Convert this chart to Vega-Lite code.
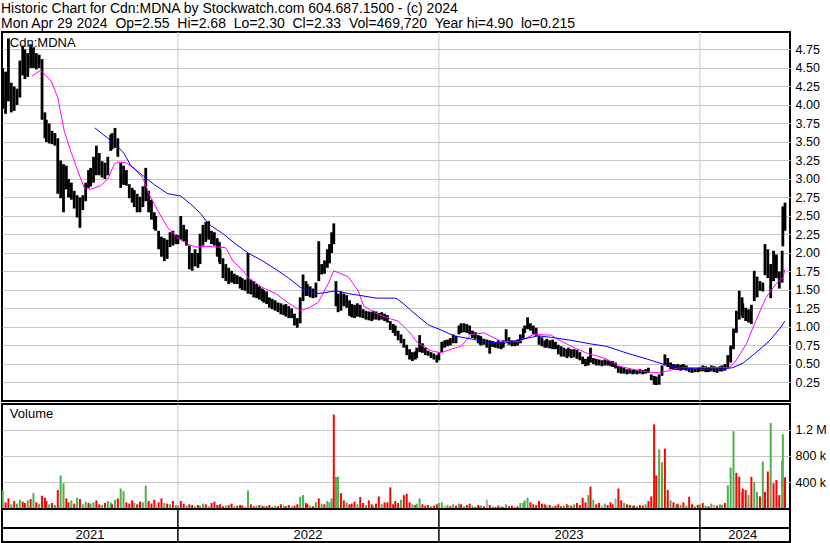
{
"$schema":"https://vega.github.io/schema/vega-lite/v6.json",
"padding":{"left":0,"top":2,"right":0,"bottom":0},
"background":"white",
"spacing":3,
"bounds":"flush",
"config":{
 "font":"Liberation Sans",
 "view":{"stroke":"black","strokeWidth":2},
 "axis":{"gridColor":"#c8c8c8","gridWidth":1,"labelFont":"Liberation Sans","labelFontSize":12.5,"labelColor":"black","domain":false,"ticks":false,"title":null,"labelOverlap":false},
 "title":{"font":"Liberation Sans","fontSize":14,"fontWeight":"normal","color":"black"}
},
"title":{"text":["Historic Chart for Cdn:MDNA by Stockwatch.com 604.687.1500 - (c) 2024","Mon Apr 29 2024\u00a0 Op=2.55\u00a0 Hi=2.68\u00a0 Lo=2.30\u00a0 Cl=2.33\u00a0 Vol=469,720\u00a0 Year hi=4.90\u00a0 lo=0.215"],"anchor":"start","frame":"bounds","lineHeight":14.5,"offset":0,"dx":1},
"datasets":{
"px":[
{"d":"2021-05-01","h":4.5,"l":3.95,"v":280,"k":"g"},{"d":"2021-05-05","h":4.45,"l":3.88,"v":90,"k":"r"},{"d":"2021-05-09","h":4.9,"l":4.05,"v":150,"k":"r"},{"d":"2021-05-13","h":4.3,"l":3.9,"v":60,"k":"g"},{"d":"2021-05-17","h":4.25,"l":3.92,"v":110,"k":"r"},{"d":"2021-05-21","h":4.22,"l":4.0,"v":70,"k":"g"},{"d":"2021-05-25","h":4.6,"l":4.1,"v":130,"k":"g"},{"d":"2021-05-29","h":4.8,"l":4.4,"v":100,"k":"r"},
{"d":"2021-06-01","h":4.75,"l":4.35,"v":80,"k":"r"},{"d":"2021-06-05","h":4.7,"l":4.38,"v":120,"k":"g"},{"d":"2021-06-09","h":4.82,"l":4.5,"v":140,"k":"r"},{"d":"2021-06-13","h":4.78,"l":4.5,"v":230,"k":"g"},{"d":"2021-06-17","h":4.7,"l":4.48,"v":90,"k":"r"},{"d":"2021-06-21","h":4.68,"l":4.5,"v":70,"k":"g"},{"d":"2021-06-25","h":4.62,"l":3.8,"v":190,"k":"r"},{"d":"2021-06-29","h":3.9,"l":3.55,"v":160,"k":"r"},
{"d":"2021-07-01","h":3.8,"l":3.5,"v":110,"k":"r"},{"d":"2021-07-05","h":3.75,"l":3.48,"v":60,"k":"g"},{"d":"2021-07-09","h":3.65,"l":3.47,"v":80,"k":"r"},{"d":"2021-07-13","h":3.62,"l":3.45,"v":50,"k":"g"},{"d":"2021-07-17","h":3.55,"l":2.8,"v":280,"k":"r"},{"d":"2021-07-21","h":3.25,"l":2.74,"v":500,"k":"g"},{"d":"2021-07-25","h":3.2,"l":2.55,"v":380,"k":"g"},{"d":"2021-07-29","h":3.18,"l":2.86,"v":150,"k":"r"},
{"d":"2021-08-01","h":3.0,"l":2.75,"v":90,"k":"r"},{"d":"2021-08-05","h":2.95,"l":2.72,"v":120,"k":"g"},{"d":"2021-08-09","h":2.84,"l":2.6,"v":70,"k":"r"},{"d":"2021-08-13","h":2.78,"l":2.48,"v":160,"k":"g"},{"d":"2021-08-17","h":2.75,"l":2.34,"v":140,"k":"r"},{"d":"2021-08-21","h":2.78,"l":2.58,"v":60,"k":"g"},{"d":"2021-08-25","h":2.95,"l":2.7,"v":100,"k":"g"},{"d":"2021-08-29","h":3.12,"l":2.88,"v":80,"k":"r"},
{"d":"2021-09-01","h":3.15,"l":2.9,"v":70,"k":"g"},{"d":"2021-09-05","h":3.3,"l":2.95,"v":90,"k":"g"},{"d":"2021-09-09","h":3.45,"l":3.05,"v":120,"k":"r"},{"d":"2021-09-13","h":3.35,"l":3.05,"v":60,"k":"r"},{"d":"2021-09-17","h":3.24,"l":3.02,"v":50,"k":"g"},{"d":"2021-09-21","h":3.22,"l":3.0,"v":80,"k":"r"},{"d":"2021-09-25","h":3.3,"l":3.05,"v":110,"k":"g"},{"d":"2021-09-29","h":3.6,"l":3.38,"v":90,"k":"g"},
{"d":"2021-10-01","h":3.62,"l":3.4,"v":60,"k":"r"},{"d":"2021-10-05","h":3.69,"l":3.42,"v":130,"k":"g"},{"d":"2021-10-09","h":3.55,"l":3.3,"v":150,"k":"r"},{"d":"2021-10-13","h":3.22,"l":2.88,"v":300,"k":"g"},{"d":"2021-10-17","h":3.18,"l":2.92,"v":260,"k":"g"},{"d":"2021-10-21","h":3.12,"l":2.91,"v":90,"k":"r"},{"d":"2021-10-25","h":2.93,"l":2.74,"v":70,"k":"r"},{"d":"2021-10-29","h":2.88,"l":2.68,"v":120,"k":"r"},
{"d":"2021-11-01","h":2.85,"l":2.62,"v":80,"k":"g"},{"d":"2021-11-05","h":2.8,"l":2.55,"v":60,"k":"r"},{"d":"2021-11-09","h":2.76,"l":2.55,"v":100,"k":"r"},{"d":"2021-11-13","h":2.9,"l":2.62,"v":90,"k":"g"},{"d":"2021-11-17","h":3.15,"l":2.7,"v":345,"k":"g"},{"d":"2021-11-21","h":2.84,"l":2.55,"v":110,"k":"r"},{"d":"2021-11-25","h":2.72,"l":2.45,"v":70,"k":"r"},{"d":"2021-11-29","h":2.55,"l":2.32,"v":130,"k":"r"},
{"d":"2021-12-01","h":2.5,"l":2.3,"v":60,"k":"n"},{"d":"2021-12-05","h":2.3,"l":2.05,"v":90,"k":"r"},{"d":"2021-12-09","h":2.22,"l":1.95,"v":150,"k":"r"},{"d":"2021-12-13","h":2.2,"l":1.89,"v":80,"k":"g"},{"d":"2021-12-17","h":2.18,"l":1.92,"v":70,"k":"r"},{"d":"2021-12-21","h":2.28,"l":2.08,"v":60,"k":"g"},{"d":"2021-12-25","h":2.3,"l":2.1,"v":110,"k":"r"},{"d":"2021-12-29","h":2.25,"l":2.12,"v":50,"k":"g"},
{"d":"2022-01-01","h":2.24,"l":2.12,"v":40,"k":"g"},{"d":"2022-01-05","h":2.5,"l":2.18,"v":110,"k":"r"},{"d":"2022-01-09","h":2.38,"l":2.16,"v":70,"k":"r"},{"d":"2022-01-13","h":2.32,"l":2.1,"v":40,"k":"g"},{"d":"2022-01-17","h":2.1,"l":1.78,"v":60,"k":"r"},{"d":"2022-01-21","h":2.0,"l":1.76,"v":50,"k":"r"},{"d":"2022-01-25","h":2.05,"l":1.82,"v":30,"k":"g"},{"d":"2022-01-29","h":2.0,"l":1.8,"v":50,"k":"r"},
{"d":"2022-02-01","h":2.26,"l":1.85,"v":40,"k":"g"},{"d":"2022-02-05","h":2.38,"l":2.1,"v":70,"k":"g"},{"d":"2022-02-09","h":2.42,"l":2.15,"v":60,"k":"r"},{"d":"2022-02-13","h":2.43,"l":2.18,"v":30,"k":"g"},{"d":"2022-02-17","h":2.3,"l":2.12,"v":80,"k":"r"},{"d":"2022-02-21","h":2.28,"l":2.1,"v":100,"k":"r"},{"d":"2022-02-25","h":2.2,"l":1.95,"v":50,"k":"r"},{"d":"2022-02-28","h":2.15,"l":1.88,"v":40,"k":"g"},
{"d":"2022-03-01","h":2.05,"l":1.85,"v":60,"k":"r"},{"d":"2022-03-05","h":1.93,"l":1.66,"v":30,"k":"r"},{"d":"2022-03-09","h":1.85,"l":1.62,"v":40,"k":"g"},{"d":"2022-03-13","h":1.8,"l":1.58,"v":50,"k":"r"},{"d":"2022-03-17","h":1.76,"l":1.6,"v":70,"k":"r"},{"d":"2022-03-21","h":1.72,"l":1.58,"v":30,"k":"g"},{"d":"2022-03-25","h":1.7,"l":1.58,"v":40,"k":"r"},{"d":"2022-03-29","h":1.68,"l":1.52,"v":50,"k":"r"},
{"d":"2022-04-01","h":1.66,"l":1.5,"v":40,"k":"r"},{"d":"2022-04-05","h":1.64,"l":1.49,"v":20,"k":"g"},{"d":"2022-04-09","h":2.0,"l":1.45,"v":270,"k":"g"},{"d":"2022-04-13","h":1.64,"l":1.44,"v":60,"k":"r"},{"d":"2022-04-17","h":1.62,"l":1.4,"v":30,"k":"r"},{"d":"2022-04-21","h":1.58,"l":1.39,"v":40,"k":"g"},{"d":"2022-04-25","h":1.55,"l":1.37,"v":50,"k":"r"},{"d":"2022-04-29","h":1.52,"l":1.35,"v":30,"k":"r"},
{"d":"2022-05-01","h":1.5,"l":1.33,"v":40,"k":"g"},{"d":"2022-05-05","h":1.48,"l":1.31,"v":30,"k":"r"},{"d":"2022-05-09","h":1.4,"l":1.26,"v":50,"k":"r"},{"d":"2022-05-13","h":1.38,"l":1.24,"v":20,"k":"r"},{"d":"2022-05-17","h":1.36,"l":1.22,"v":40,"k":"g"},{"d":"2022-05-21","h":1.33,"l":1.2,"v":30,"k":"r"},{"d":"2022-05-25","h":1.32,"l":1.17,"v":60,"k":"r"},{"d":"2022-05-29","h":1.3,"l":1.16,"v":40,"k":"g"},
{"d":"2022-06-01","h":1.31,"l":1.14,"v":30,"k":"r"},{"d":"2022-06-05","h":1.28,"l":1.12,"v":50,"k":"r"},{"d":"2022-06-09","h":1.25,"l":1.12,"v":30,"k":"g"},{"d":"2022-06-13","h":1.18,"l":1.02,"v":40,"k":"r"},{"d":"2022-06-17","h":1.12,"l":0.99,"v":60,"k":"r"},{"d":"2022-06-21","h":1.4,"l":1.05,"v":175,"k":"g"},{"d":"2022-06-25","h":1.71,"l":1.35,"v":200,"k":"g"},{"d":"2022-06-29","h":1.62,"l":1.42,"v":80,"k":"r"},
{"d":"2022-07-01","h":1.58,"l":1.42,"v":60,"k":"r"},{"d":"2022-07-05","h":1.55,"l":1.4,"v":40,"k":"g"},{"d":"2022-07-09","h":1.52,"l":1.39,"v":30,"k":"r"},{"d":"2022-07-13","h":1.6,"l":1.4,"v":90,"k":"g"},{"d":"2022-07-17","h":2.16,"l":1.62,"v":150,"k":"r"},{"d":"2022-07-21","h":1.85,"l":1.71,"v":70,"k":"g"},{"d":"2022-07-25","h":1.9,"l":1.72,"v":60,"k":"r"},{"d":"2022-07-29","h":2.05,"l":1.8,"v":110,"k":"g"},
{"d":"2022-08-01","h":2.12,"l":1.86,"v":90,"k":"g"},{"d":"2022-08-04","h":2.28,"l":2.0,"v":150,"k":"g"},{"d":"2022-08-07","h":2.4,"l":2.12,"v":1430,"k":"r"},{"d":"2022-08-10","h":1.62,"l":1.28,"v":480,"k":"g"},{"d":"2022-08-13","h":1.45,"l":1.2,"v":480,"k":"g"},{"d":"2022-08-17","h":1.48,"l":1.22,"v":230,"k":"r"},{"d":"2022-08-21","h":1.45,"l":1.28,"v":120,"k":"r"},{"d":"2022-08-25","h":1.43,"l":1.26,"v":90,"k":"g"},{"d":"2022-08-29","h":1.36,"l":1.15,"v":60,"k":"r"},
{"d":"2022-09-01","h":1.31,"l":1.13,"v":70,"k":"r"},{"d":"2022-09-05","h":1.3,"l":1.12,"v":100,"k":"r"},{"d":"2022-09-09","h":1.32,"l":1.14,"v":60,"k":"g"},{"d":"2022-09-13","h":1.3,"l":1.13,"v":170,"k":"r"},{"d":"2022-09-17","h":1.24,"l":1.12,"v":80,"k":"r"},{"d":"2022-09-21","h":1.22,"l":1.1,"v":50,"k":"g"},{"d":"2022-09-25","h":1.21,"l":1.09,"v":120,"k":"r"},{"d":"2022-09-29","h":1.2,"l":1.08,"v":60,"k":"r"},
{"d":"2022-10-01","h":1.22,"l":1.1,"v":40,"k":"g"},{"d":"2022-10-05","h":1.21,"l":1.1,"v":70,"k":"r"},{"d":"2022-10-09","h":1.19,"l":1.09,"v":180,"k":"r"},{"d":"2022-10-13","h":1.2,"l":1.1,"v":60,"k":"g"},{"d":"2022-10-17","h":1.18,"l":1.08,"v":90,"k":"r"},{"d":"2022-10-21","h":1.16,"l":1.06,"v":90,"k":"r"},{"d":"2022-10-25","h":1.08,"l":0.96,"v":318,"k":"r"},{"d":"2022-10-29","h":1.04,"l":0.92,"v":60,"k":"r"},
{"d":"2022-11-01","h":1.02,"l":0.88,"v":110,"k":"r"},{"d":"2022-11-05","h":0.95,"l":0.82,"v":80,"k":"r"},{"d":"2022-11-09","h":0.9,"l":0.78,"v":130,"k":"g"},{"d":"2022-11-13","h":0.84,"l":0.72,"v":200,"k":"r"},{"d":"2022-11-17","h":0.76,"l":0.62,"v":220,"k":"r"},{"d":"2022-11-21","h":0.7,"l":0.56,"v":90,"k":"r"},{"d":"2022-11-25","h":0.66,"l":0.54,"v":60,"k":"g"},{"d":"2022-11-29","h":0.67,"l":0.56,"v":50,"k":"r"},
{"d":"2022-12-01","h":0.72,"l":0.58,"v":70,"k":"g"},{"d":"2022-12-05","h":0.89,"l":0.66,"v":150,"k":"g"},{"d":"2022-12-09","h":0.78,"l":0.65,"v":60,"k":"r"},{"d":"2022-12-13","h":0.72,"l":0.62,"v":40,"k":"r"},{"d":"2022-12-17","h":0.68,"l":0.61,"v":50,"k":"r"},{"d":"2022-12-21","h":0.66,"l":0.58,"v":30,"k":"g"},{"d":"2022-12-25","h":0.64,"l":0.56,"v":40,"k":"r"},{"d":"2022-12-29","h":0.62,"l":0.52,"v":60,"k":"r"},
{"d":"2023-01-01","h":0.65,"l":0.55,"v":80,"k":"g"},{"d":"2023-01-05","h":0.8,"l":0.66,"v":90,"k":"g"},{"d":"2023-01-09","h":0.82,"l":0.72,"v":40,"k":"n"},{"d":"2023-01-13","h":0.83,"l":0.74,"v":50,"k":"g"},{"d":"2023-01-17","h":0.85,"l":0.75,"v":30,"k":"r"},{"d":"2023-01-21","h":0.9,"l":0.78,"v":60,"k":"g"},{"d":"2023-01-25","h":0.88,"l":0.78,"v":40,"k":"r"},{"d":"2023-01-29","h":1.02,"l":0.9,"v":70,"k":"g"},
{"d":"2023-02-01","h":1.05,"l":0.92,"v":60,"k":"r"},{"d":"2023-02-05","h":1.05,"l":0.93,"v":30,"k":"g"},{"d":"2023-02-09","h":1.04,"l":0.92,"v":50,"k":"r"},{"d":"2023-02-13","h":1.02,"l":0.9,"v":70,"k":"r"},{"d":"2023-02-17","h":0.95,"l":0.85,"v":40,"k":"g"},{"d":"2023-02-21","h":0.93,"l":0.84,"v":20,"k":"r"},{"d":"2023-02-25","h":0.89,"l":0.78,"v":50,"k":"r"},{"d":"2023-02-28","h":0.88,"l":0.76,"v":30,"k":"r"},
{"d":"2023-03-01","h":0.86,"l":0.75,"v":40,"k":"g"},{"d":"2023-03-05","h":0.84,"l":0.76,"v":30,"k":"r"},{"d":"2023-03-09","h":0.83,"l":0.72,"v":130,"k":"n"},{"d":"2023-03-13","h":0.82,"l":0.64,"v":50,"k":"r"},{"d":"2023-03-17","h":0.81,"l":0.73,"v":30,"k":"g"},{"d":"2023-03-21","h":0.8,"l":0.72,"v":20,"k":"r"},{"d":"2023-03-25","h":0.82,"l":0.71,"v":40,"k":"r"},{"d":"2023-03-29","h":0.8,"l":0.7,"v":30,"k":"g"},
{"d":"2023-04-01","h":0.82,"l":0.72,"v":20,"k":"r"},{"d":"2023-04-05","h":0.97,"l":0.8,"v":60,"k":"g"},{"d":"2023-04-09","h":0.86,"l":0.76,"v":30,"k":"r"},{"d":"2023-04-13","h":0.82,"l":0.74,"v":40,"k":"r"},{"d":"2023-04-17","h":0.81,"l":0.74,"v":20,"k":"g"},{"d":"2023-04-21","h":0.83,"l":0.75,"v":30,"k":"r"},{"d":"2023-04-25","h":0.9,"l":0.78,"v":80,"k":"g"},{"d":"2023-04-29","h":0.98,"l":0.84,"v":90,"k":"g"},
{"d":"2023-05-01","h":1.02,"l":0.92,"v":120,"k":"g"},{"d":"2023-05-05","h":1.13,"l":0.97,"v":160,"k":"g"},{"d":"2023-05-09","h":1.05,"l":0.95,"v":90,"k":"r"},{"d":"2023-05-13","h":1.02,"l":0.9,"v":60,"k":"r"},{"d":"2023-05-17","h":0.99,"l":0.88,"v":50,"k":"r"},{"d":"2023-05-21","h":0.88,"l":0.76,"v":110,"k":"r"},{"d":"2023-05-25","h":0.86,"l":0.74,"v":70,"k":"r"},{"d":"2023-05-29","h":0.82,"l":0.72,"v":60,"k":"r"},
{"d":"2023-06-01","h":0.84,"l":0.72,"v":40,"k":"g"},{"d":"2023-06-05","h":0.82,"l":0.71,"v":50,"k":"r"},{"d":"2023-06-09","h":0.83,"l":0.7,"v":30,"k":"g"},{"d":"2023-06-13","h":0.8,"l":0.7,"v":40,"k":"r"},{"d":"2023-06-17","h":0.76,"l":0.63,"v":60,"k":"r"},{"d":"2023-06-21","h":0.74,"l":0.6,"v":30,"k":"r"},{"d":"2023-06-25","h":0.72,"l":0.6,"v":40,"k":"g"},{"d":"2023-06-29","h":0.7,"l":0.58,"v":60,"k":"r"},
{"d":"2023-07-01","h":0.72,"l":0.6,"v":50,"k":"g"},{"d":"2023-07-05","h":0.7,"l":0.58,"v":40,"k":"r"},{"d":"2023-07-09","h":0.7,"l":0.59,"v":60,"k":"g"},{"d":"2023-07-13","h":0.69,"l":0.57,"v":80,"k":"r"},{"d":"2023-07-17","h":0.66,"l":0.55,"v":50,"k":"r"},{"d":"2023-07-21","h":0.6,"l":0.5,"v":160,"k":"r"},{"d":"2023-07-25","h":0.57,"l":0.47,"v":90,"k":"r"},{"d":"2023-07-29","h":0.6,"l":0.48,"v":200,"k":"g"},
{"d":"2023-08-01","h":0.72,"l":0.52,"v":330,"k":"r"},{"d":"2023-08-05","h":0.58,"l":0.5,"v":130,"k":"g"},{"d":"2023-08-09","h":0.57,"l":0.48,"v":60,"k":"r"},{"d":"2023-08-13","h":0.56,"l":0.48,"v":80,"k":"r"},{"d":"2023-08-17","h":0.55,"l":0.47,"v":40,"k":"n"},{"d":"2023-08-21","h":0.56,"l":0.48,"v":70,"k":"g"},{"d":"2023-08-25","h":0.55,"l":0.48,"v":50,"k":"r"},{"d":"2023-08-29","h":0.54,"l":0.47,"v":90,"k":"r"},
{"d":"2023-09-01","h":0.54,"l":0.46,"v":60,"k":"r"},{"d":"2023-09-05","h":0.52,"l":0.44,"v":150,"k":"n"},{"d":"2023-09-09","h":0.47,"l":0.38,"v":300,"k":"r"},{"d":"2023-09-13","h":0.46,"l":0.37,"v":120,"k":"r"},{"d":"2023-09-17","h":0.45,"l":0.37,"v":80,"k":"g"},{"d":"2023-09-21","h":0.43,"l":0.36,"v":60,"k":"r"},{"d":"2023-09-25","h":0.43,"l":0.37,"v":50,"k":"r"},{"d":"2023-09-29","h":0.42,"l":0.36,"v":40,"k":"g"},
{"d":"2023-10-01","h":0.43,"l":0.37,"v":40,"k":"r"},{"d":"2023-10-05","h":0.42,"l":0.36,"v":30,"k":"g"},{"d":"2023-10-09","h":0.43,"l":0.37,"v":50,"k":"r"},{"d":"2023-10-13","h":0.42,"l":0.36,"v":40,"k":"r"},{"d":"2023-10-17","h":0.43,"l":0.37,"v":60,"k":"g"},{"d":"2023-10-21","h":0.45,"l":0.38,"v":110,"k":"r"},{"d":"2023-10-25","h":0.36,"l":0.28,"v":180,"k":"r"},{"d":"2023-10-29","h":0.34,"l":0.22,"v":1280,"k":"r"},
{"d":"2023-11-01","h":0.33,"l":0.215,"v":500,"k":"r"},{"d":"2023-11-05","h":0.36,"l":0.22,"v":900,"k":"g"},{"d":"2023-11-09","h":0.48,"l":0.34,"v":700,"k":"g"},{"d":"2023-11-13","h":0.63,"l":0.48,"v":910,"k":"r"},{"d":"2023-11-17","h":0.58,"l":0.46,"v":280,"k":"r"},{"d":"2023-11-21","h":0.52,"l":0.43,"v":120,"k":"g"},{"d":"2023-11-25","h":0.5,"l":0.42,"v":90,"k":"r"},{"d":"2023-11-29","h":0.49,"l":0.42,"v":60,"k":"g"},
{"d":"2023-12-01","h":0.5,"l":0.42,"v":70,"k":"r"},{"d":"2023-12-05","h":0.49,"l":0.41,"v":50,"k":"g"},{"d":"2023-12-09","h":0.5,"l":0.42,"v":90,"k":"r"},{"d":"2023-12-13","h":0.48,"l":0.41,"v":40,"k":"g"},{"d":"2023-12-17","h":0.45,"l":0.39,"v":175,"k":"r"},{"d":"2023-12-21","h":0.44,"l":0.38,"v":60,"k":"r"},{"d":"2023-12-25","h":0.44,"l":0.39,"v":30,"k":"g"},{"d":"2023-12-29","h":0.45,"l":0.39,"v":50,"k":"r"},
{"d":"2024-01-01","h":0.46,"l":0.4,"v":60,"k":"g"},{"d":"2024-01-05","h":0.48,"l":0.4,"v":80,"k":"r"},{"d":"2024-01-09","h":0.47,"l":0.39,"v":40,"k":"g"},{"d":"2024-01-13","h":0.46,"l":0.39,"v":30,"k":"r"},{"d":"2024-01-17","h":0.48,"l":0.4,"v":70,"k":"g"},{"d":"2024-01-21","h":0.47,"l":0.39,"v":50,"k":"n"},{"d":"2024-01-25","h":0.46,"l":0.38,"v":40,"k":"r"},{"d":"2024-01-29","h":0.47,"l":0.4,"v":60,"k":"g"},
{"d":"2024-02-01","h":0.48,"l":0.4,"v":50,"k":"g"},{"d":"2024-02-05","h":0.5,"l":0.41,"v":80,"k":"r"},{"d":"2024-02-09","h":0.62,"l":0.44,"v":350,"k":"g"},{"d":"2024-02-13","h":0.75,"l":0.52,"v":620,"k":"g"},{"d":"2024-02-17","h":0.98,"l":0.7,"v":1175,"k":"g"},{"d":"2024-02-21","h":1.22,"l":0.92,"v":540,"k":"r"},{"d":"2024-02-25","h":1.49,"l":1.1,"v":480,"k":"r"},{"d":"2024-02-29","h":1.4,"l":1.15,"v":250,"k":"g"},
{"d":"2024-03-01","h":1.32,"l":1.12,"v":300,"k":"r"},{"d":"2024-03-05","h":1.26,"l":1.08,"v":280,"k":"r"},{"d":"2024-03-09","h":1.24,"l":1.06,"v":200,"k":"g"},{"d":"2024-03-13","h":1.3,"l":1.04,"v":480,"k":"r"},{"d":"2024-03-17","h":1.76,"l":1.35,"v":400,"k":"g"},{"d":"2024-03-21","h":1.68,"l":1.4,"v":250,"k":"g"},{"d":"2024-03-25","h":1.62,"l":1.49,"v":180,"k":"r"},{"d":"2024-03-29","h":1.6,"l":1.48,"v":715,"k":"g"},
{"d":"2024-04-01","h":2.12,"l":1.7,"v":250,"k":"r"},{"d":"2024-04-05","h":2.05,"l":1.66,"v":560,"k":"r"},{"d":"2024-04-09","h":1.85,"l":1.39,"v":1300,"k":"g"},{"d":"2024-04-13","h":2.03,"l":1.62,"v":380,"k":"r"},{"d":"2024-04-17","h":1.98,"l":1.66,"v":430,"k":"r"},{"d":"2024-04-21","h":1.75,"l":1.52,"v":200,"k":"r"},{"d":"2024-04-25","h":2.03,"l":1.6,"v":725,"k":"g"},{"d":"2024-04-26","h":2.63,"l":2.09,"v":1130,"k":"g"},{"d":"2024-04-29","h":2.68,"l":2.3,"v":470,"k":"r"}
],
"ma1":[
{"d":"2021-06-11","p":4.39},{"d":"2021-06-23","p":4.47},{"d":"2021-07-08","p":4.32},{"d":"2021-07-17","p":4.1},{"d":"2021-07-26","p":3.65},{"d":"2021-08-04","p":3.38},{"d":"2021-08-14","p":3.11},{"d":"2021-08-23","p":2.88},{"d":"2021-09-01","p":2.86},{"d":"2021-09-15","p":2.91},{"d":"2021-09-25","p":3.0},{"d":"2021-10-04","p":3.2},{"d":"2021-10-09","p":3.23},{"d":"2021-10-20","p":3.22},{"d":"2021-11-01","p":3.14},{"d":"2021-11-13","p":3.01},{"d":"2021-11-22","p":2.79},{"d":"2021-12-04","p":2.57},{"d":"2021-12-18","p":2.34},{"d":"2022-01-01","p":2.2},{"d":"2022-01-15","p":2.12},{"d":"2022-01-26","p":2.08},{"d":"2022-02-09","p":2.09},{"d":"2022-02-27","p":2.08},{"d":"2022-03-09","p":2.07},{"d":"2022-03-19","p":1.89},{"d":"2022-04-02","p":1.76},{"d":"2022-04-10","p":1.66},{"d":"2022-04-30","p":1.53},{"d":"2022-05-18","p":1.45},{"d":"2022-06-05","p":1.32},{"d":"2022-06-22","p":1.22},{"d":"2022-07-03","p":1.26},{"d":"2022-07-16","p":1.33},{"d":"2022-07-30","p":1.58},{"d":"2022-08-07","p":1.76},{"d":"2022-08-27","p":1.68},{"d":"2022-09-10","p":1.49},{"d":"2022-09-18","p":1.28},{"d":"2022-10-08","p":1.17},{"d":"2022-10-22","p":1.12},{"d":"2022-11-05","p":1.08},{"d":"2022-11-19","p":0.95},{"d":"2022-12-03","p":0.78},{"d":"2022-12-21","p":0.68},{"d":"2023-01-04","p":0.65},{"d":"2023-01-18","p":0.7},{"d":"2023-02-01","p":0.74},{"d":"2023-02-15","p":0.9},{"d":"2023-03-05","p":0.92},{"d":"2023-03-29","p":0.81},{"d":"2023-04-22","p":0.8},{"d":"2023-05-14","p":0.9},{"d":"2023-06-07","p":0.89},{"d":"2023-06-21","p":0.81},{"d":"2023-07-09","p":0.72},{"d":"2023-07-26","p":0.65},{"d":"2023-08-23","p":0.57},{"d":"2023-09-10","p":0.47},{"d":"2023-10-08","p":0.41},{"d":"2023-11-01","p":0.38},{"d":"2023-11-15","p":0.4},{"d":"2023-12-03","p":0.45},{"d":"2023-12-27","p":0.45},{"d":"2024-01-28","p":0.45},{"d":"2024-02-11","p":0.45},{"d":"2024-02-20","p":0.54},{"d":"2024-03-06","p":0.77},{"d":"2024-03-19","p":1.08},{"d":"2024-04-02","p":1.39},{"d":"2024-04-16","p":1.58},{"d":"2024-04-26","p":1.66},{"d":"2024-04-29","p":1.78}
],
"ma2":[
{"d":"2021-09-07","p":3.69},{"d":"2021-09-25","p":3.55},{"d":"2021-10-06","p":3.47},{"d":"2021-10-18","p":3.34},{"d":"2021-10-27","p":3.18},{"d":"2021-11-10","p":3.07},{"d":"2021-11-28","p":2.93},{"d":"2021-12-18","p":2.8},{"d":"2022-01-05","p":2.77},{"d":"2022-01-19","p":2.66},{"d":"2022-02-02","p":2.53},{"d":"2022-02-13","p":2.39},{"d":"2022-03-05","p":2.26},{"d":"2022-03-23","p":2.12},{"d":"2022-04-09","p":2.0},{"d":"2022-04-30","p":1.89},{"d":"2022-05-18","p":1.78},{"d":"2022-06-05","p":1.66},{"d":"2022-06-22","p":1.53},{"d":"2022-07-03","p":1.49},{"d":"2022-07-13","p":1.45},{"d":"2022-07-23","p":1.46},{"d":"2022-08-10","p":1.49},{"d":"2022-08-28","p":1.45},{"d":"2022-09-17","p":1.42},{"d":"2022-10-05","p":1.39},{"d":"2022-11-02","p":1.39},{"d":"2022-11-13","p":1.31},{"d":"2022-11-27","p":1.19},{"d":"2022-12-17","p":1.03},{"d":"2023-01-04","p":0.96},{"d":"2023-01-22","p":0.88},{"d":"2023-02-15","p":0.84},{"d":"2023-03-05","p":0.8},{"d":"2023-04-02","p":0.78},{"d":"2023-04-30","p":0.84},{"d":"2023-05-20","p":0.88},{"d":"2023-06-07","p":0.86},{"d":"2023-07-05","p":0.82},{"d":"2023-08-02","p":0.77},{"d":"2023-08-23","p":0.74},{"d":"2023-09-20","p":0.65},{"d":"2023-10-18","p":0.57},{"d":"2023-11-10","p":0.5},{"d":"2023-12-03","p":0.45},{"d":"2023-12-31","p":0.43},{"d":"2024-01-28","p":0.43},{"d":"2024-02-16","p":0.45},{"d":"2024-03-01","p":0.51},{"d":"2024-03-19","p":0.65},{"d":"2024-04-07","p":0.81},{"d":"2024-04-21","p":0.97},{"d":"2024-04-29","p":1.08}
],
"bnd":[{"b":"2022-01-01"},{"b":"2023-01-01"},{"b":"2024-01-01"}],
"yl":[{"m":"2021-08-31","y":"2021"},{"m":"2022-07-02","y":"2022"},{"m":"2023-07-02","y":"2023"},{"m":"2024-03-01","y":"2024"}]
},
"vconcat":[
{
 "width":788,"height":369,
 "resolve":{"axis":{"x":"independent","y":"independent"}},
 "layer":[
  {"data":{"name":"bnd"},"mark":{"type":"rule","color":"#c8c8c8","strokeWidth":1},
   "encoding":{"x":{"field":"b","type":"temporal","scale":{"domain":[{"year":2021,"month":4,"date":30},{"year":2024,"month":5,"date":6}]},"axis":null}}},
  {"data":{"name":"px"},"mark":{"type":"rule","color":"black","strokeWidth":2.8},
   "encoding":{
    "x":{"field":"d","type":"temporal","axis":null},
    "y":{"field":"h","type":"quantitative","scale":{"domain":[0,4.986],"nice":false,"zero":false},
         "axis":{"orient":"right","values":[0.25,0.5,0.75,1,1.25,1.5,1.75,2,2.25,2.5,2.75,3,3.25,3.5,3.75,4,4.25,4.5,4.75],"format":".2f","grid":true,"labelPadding":5,"labelOverlap":false,"labelFontSize":12.5}},
    "y2":{"field":"l"}}},
  {"data":{"name":"ma1"},"mark":{"type":"line","color":"#ff00ff","strokeWidth":1},
   "encoding":{"x":{"field":"d","type":"temporal","axis":null},"y":{"field":"p","type":"quantitative","axis":null}}},
  {"data":{"name":"ma2"},"mark":{"type":"line","color":"#0000ff","strokeWidth":1},
   "encoding":{"x":{"field":"d","type":"temporal","axis":null},"y":{"field":"p","type":"quantitative","axis":null}}},
  {"data":{"values":[{"t":"Cdn:MDNA"}]},"mark":{"type":"text","align":"left","baseline":"alphabetic","fontSize":13,"color":"black"},
   "encoding":{"x":{"datum":{"year":2021,"month":5,"date":11},"type":"temporal","axis":null},"y":{"datum":4.78,"type":"quantitative","axis":null},"text":{"field":"t"}}}
 ]
},
{
 "spacing":0,
 "bounds":"flush",
 "vconcat":[
 {
  "width":788,"height":105,
  "resolve":{"axis":{"x":"independent","y":"independent"}},
  "layer":[
   {"data":{"name":"bnd"},"mark":{"type":"rule","color":"#c8c8c8","strokeWidth":1},
    "encoding":{"x":{"field":"b","type":"temporal","scale":{"domain":[{"year":2021,"month":4,"date":30},{"year":2024,"month":5,"date":6}]},"axis":null}}},
   {"data":{"name":"px"},"mark":{"type":"rule","strokeWidth":2},
    "encoding":{
     "x":{"field":"d","type":"temporal","axis":null},
     "y":{"field":"v","type":"quantitative","scale":{"domain":[-12,1591],"nice":false,"zero":false},
          "axis":{"orient":"right","values":[400,800,1200],"labelExpr":"datum.value >= 1000 ? format(datum.value/1000, '.1f') + ' M' : datum.value + ' k'","grid":true,"labelPadding":5,"labelOverlap":false}},
     "y2":{"datum":-12},
     "color":{"field":"k","type":"nominal","scale":{"domain":["g","r","n"],"range":["#4cb04c","#ff0000","#a8a8a8"]},"legend":null}}},
   {"data":{"values":[{"t":"Volume"}]},"mark":{"type":"text","align":"left","baseline":"alphabetic","fontSize":13,"color":"black"},
    "encoding":{"x":{"datum":{"year":2021,"month":5,"date":11},"type":"temporal","axis":null},"y":{"datum":1380,"type":"quantitative","axis":null},"text":{"field":"t"}}}
  ]
 },
 {
  "width":788,"height":33,
  "layer":[
   {"data":{"name":"bnd"},"mark":{"type":"rule","color":"black","strokeWidth":1.5},
    "encoding":{"x":{"field":"b","type":"temporal","scale":{"domain":[{"year":2021,"month":4,"date":30},{"year":2024,"month":5,"date":6}]},"axis":null}}},
   {"data":{"values":[{"z":14}]},"mark":{"type":"rule","color":"black","strokeWidth":2},
    "encoding":{"y":{"field":"z","type":"quantitative","scale":{"domain":[0,33],"nice":false,"zero":false},"axis":null}}},
   {"data":{"name":"yl"},"mark":{"type":"text","fontSize":13,"baseline":"middle","align":"center","color":"black"},
    "encoding":{"x":{"field":"m","type":"temporal","axis":null},"y":{"datum":7,"type":"quantitative","axis":null},"text":{"field":"y"}}}
  ]
 }
 ]
}
]
}
